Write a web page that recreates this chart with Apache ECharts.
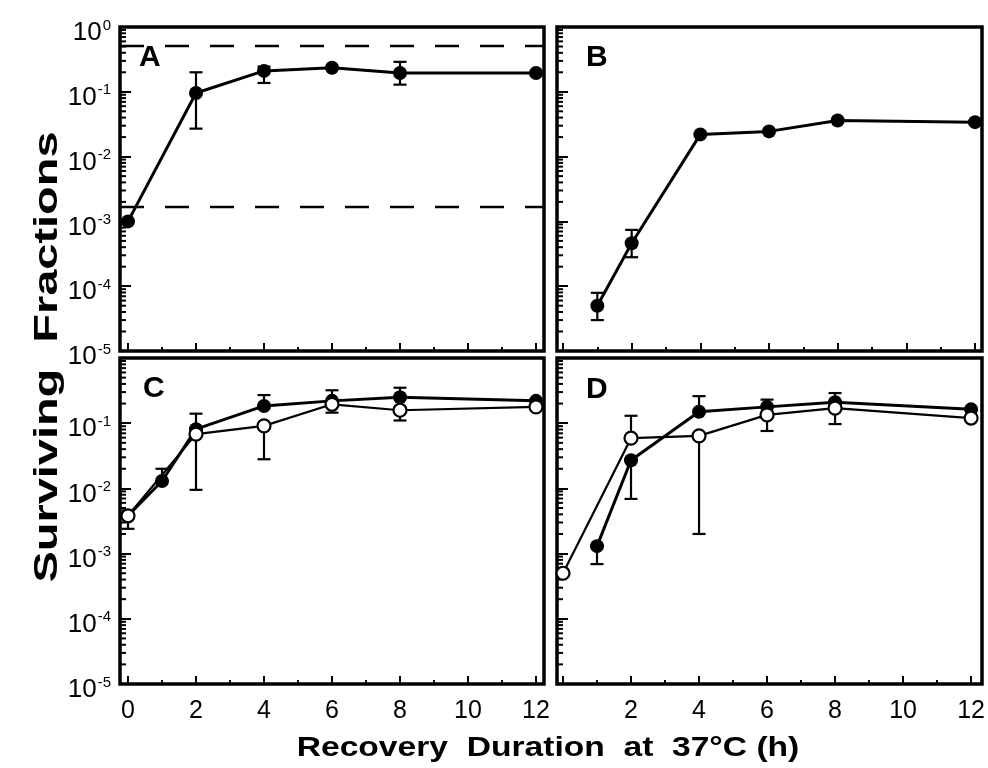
<!DOCTYPE html>
<html>
<head>
<meta charset="utf-8">
<script src="https://cdn.jsdelivr.net/npm/echarts@6/dist/echarts.min.js"></script>
<style>
  html, body { margin: 0; padding: 0; background: #fff; }
  #chart { width: 988px; height: 768px; }
</style>
</head>
<body>
<div id="chart"></div>
<script>
// panel A
const aHours = [0, 2, 4, 6, 8, 12]
const aSurv = [1.0e-3, 0.096, 0.21, 0.235, 0.195, 0.195]
const aErr = [[2, 0.027, 0.20], [4, 0.137, 0.245], [8, 0.129, 0.29]]
const aLimits = [0.51, 0.00167]

// panel B
const bHours = [1, 2, 4, 6, 8, 12]
const bSurv = [5.0e-5, 4.6e-4, 0.022, 0.0245, 0.036, 0.034]
const bErr = [[1, 3.0e-5, 7.9e-5], [2, 2.8e-4, 7.4e-4]]

// panel C
const cFilledHours = [0, 1, 2, 4, 6, 8, 12]
const cFilled = [3.8e-3, 0.013, 0.081, 0.184, 0.22, 0.25, 0.22]
const cFilledErr = [[1, 0.013, 0.020], [2, 0.081, 0.14], [4, 0.184, 0.27], [6, 0.22, 0.32], [8, 0.25, 0.35]]
const cOpenHours = [0, 2, 4, 6, 8, 12]
const cOpen = [3.8e-3, 0.068, 0.091, 0.195, 0.158, 0.178]
const cOpenErr = [[0, 2.4e-3, 4.6e-3], [2, 0.0095, 0.068], [4, 0.028, 0.091], [6, 0.145, 0.195], [8, 0.11, 0.158]]

// panel D
const dFilledHours = [1, 2, 4, 6, 8, 12]
const dFilled = [1.3e-3, 0.027, 0.15, 0.178, 0.21, 0.163]
const dFilledErr = [[1, 6.9e-4, 1.3e-3], [2, 0.0069, 0.027], [4, 0.15, 0.26], [6, 0.178, 0.23], [8, 0.21, 0.29]]
const dOpenHours = [0, 2, 4, 6, 8, 12]
const dOpen = [5.0e-4, 0.059, 0.064, 0.134, 0.17, 0.12]
const dOpenErr = [[2, 0.059, 0.13], [4, 0.002, 0.064], [6, 0.076, 0.134], [8, 0.097, 0.17]]

const xTicks = [0, 2, 4, 6, 8, 10, 12]
const decades = [-5, -4, -3, -2, -1, 0]

const FONT = 'Liberation Sans'

// minor ticks of the log axis: 2..9 in each decade
const minorTickValues = []
decades.slice(0, -1).forEach(d => {
  for (let m = 2; m <= 9; m++) minorTickValues.push(m * Math.pow(10, d))
})

const zip = (xs, ys) => xs.map((x, i) => [x, ys[i]])

// data grids (x = 0..12) and frame grids (border + y axis)
const dataBoxes = [
  { left: 128, top: 27, width: 408, height: 324 },
  { left: 563, top: 27, width: 412, height: 324 },
  { left: 128, top: 358, width: 408, height: 326 },
  { left: 563, top: 358, width: 412, height: 326 }
]
const frameBoxes = [
  { left: 120, top: 27, width: 424, height: 324 },
  { left: 557, top: 27, width: 425, height: 324 },
  { left: 120, top: 358, width: 424, height: 326 },
  { left: 557, top: 358, width: 425, height: 326 }
]

const grid = dataBoxes.map(b => Object.assign({ show: false }, b))
  .concat(frameBoxes.map(b => Object.assign({
    show: true, borderColor: '#000', borderWidth: 3.5, backgroundColor: 'transparent'
  }, b)))

const xAxis = [0, 1, 2, 3].map(i => ({
  type: 'value',
  gridIndex: i,
  min: 0,
  max: 12,
  interval: 2,
  axisLine: { show: false },
  axisTick: { inside: true, length: 8, lineStyle: { color: '#000', width: 2 } },
  minorTick: { show: true, splitNumber: 2, length: 4, lineStyle: { color: '#000', width: 2 } },
  splitLine: { show: false },
  axisLabel: {
    show: i >= 2,
    color: '#000',
    fontFamily: FONT,
    fontSize: 25,
    margin: 15,
    formatter: v => (i === 3 && v === 0) ? '' : (xTicks.indexOf(v) >= 0 ? String(v) : '')
  }
})).concat([4, 5, 6, 7].map(i => ({
  type: 'value', gridIndex: i, min: 0, max: 1, show: false
})))

const yAxis = [0, 1, 2, 3].map(i => ({
  type: 'log', gridIndex: i, min: 1e-5, max: 1, show: false
})).concat([4, 5, 6, 7].map(i => ({
  type: 'log',
  gridIndex: i,
  logBase: 10,
  min: 1e-5,
  max: 1,
  axisLine: { show: false },
  axisTick: { inside: true, length: 11, lineStyle: { color: '#000', width: 2 } },
  splitLine: { show: false },
  axisLabel: {
    show: i === 4 || i === 6,
    margin: 9,
    color: '#000',
    formatter: v => {
      const e = Math.round(Math.log10(v))
      if (i === 6 && e === 0) return ''
      return '{b|10}{e|' + e + '}'
    },
    rich: {
      b: { fontFamily: FONT, fontSize: 26, color: '#000', padding: [12, 0, 0, 0], lineHeight: 26 },
      e: { fontFamily: FONT, fontSize: 15, color: '#000', verticalAlign: 'top', padding: [4, 0, 0, 1], lineHeight: 15 }
    }
  }
})))

function errorBars(idx, data) {
  return {
    type: 'custom',
    xAxisIndex: idx,
    yAxisIndex: idx,
    z: 1,
    clip: false,
    encode: { x: 0, y: [1, 2] },
    data: data,
    renderItem: (params, api) => {
      const x = api.value(0)
      const lo = api.coord([x, api.value(1)])
      const hi = api.coord([x, api.value(2)])
      const w = 6.5
      const st = { stroke: '#000', lineWidth: 2.2 }
      return {
        type: 'group',
        children: [
          { type: 'line', shape: { x1: lo[0], y1: lo[1], x2: hi[0], y2: hi[1] }, style: st },
          { type: 'line', shape: { x1: lo[0] - w, y1: lo[1], x2: lo[0] + w, y2: lo[1] }, style: st },
          { type: 'line', shape: { x1: hi[0] - w, y1: hi[1], x2: hi[0] + w, y2: hi[1] }, style: st }
        ]
      }
    }
  }
}

function curve(idx, hours, values, open) {
  return {
    type: 'line',
    xAxisIndex: idx,
    yAxisIndex: idx,
    z: open ? 4 : 3,
    clip: false,
    data: zip(hours, values),
    symbol: 'circle',
    symbolSize: open ? 13 : 14,
    itemStyle: open
      ? { color: '#fff', borderColor: '#000', borderWidth: 2.2 }
      : { color: '#000' },
    lineStyle: { color: '#000', width: open ? 2.2 : 3 },
    emphasis: { disabled: true }
  }
}

function minorTicks(idx) {
  return {
    type: 'custom',
    xAxisIndex: idx,
    yAxisIndex: idx,
    z: 2,
    clip: false,
    data: minorTickValues.map(v => [0, v]),
    renderItem: (params, api) => {
      const p = api.coord([0, api.value(1)])
      return {
        type: 'line',
        shape: { x1: p[0], y1: p[1], x2: p[0] + 6, y2: p[1] },
        style: { stroke: '#000', lineWidth: 2 }
      }
    }
  }
}

const limitLines = aLimits.map(v => ({
  type: 'line',
  xAxisIndex: 4,
  yAxisIndex: 4,
  z: 2,
  data: [[0, v], [1, v]],
  symbol: 'none',
  lineStyle: { color: '#000', width: 2.5, type: [24, 21] },
  silent: true
}))

const series = [
  minorTicks(4), minorTicks(5), minorTicks(6), minorTicks(7),
  ...limitLines,
  errorBars(0, aErr), curve(0, aHours, aSurv, false),
  errorBars(1, bErr), curve(1, bHours, bSurv, false),
  errorBars(2, cFilledErr), errorBars(2, cOpenErr),
  curve(2, cFilledHours, cFilled, false), curve(2, cOpenHours, cOpen, true),
  errorBars(3, dFilledErr), errorBars(3, dOpenErr),
  curve(3, dFilledHours, dFilled, false), curve(3, dOpenHours, dOpen, true)
]

const letterStyle = { fontFamily: FONT, fontWeight: 'bold', fontSize: 30, fill: '#000' }
const panelLetters = [['A', 139, 43], ['B', 586, 43], ['C', 143, 374], ['D', 586, 375]]

const chart = echarts.init(document.getElementById('chart'), null, { renderer: 'canvas' })
chart.setOption({
  animation: false,
  backgroundColor: '#fff',
  grid: grid,
  xAxis: xAxis,
  yAxis: yAxis,
  series: series,
  graphic: panelLetters.map(l => ({
    type: 'text', left: l[1], top: l[2], z: 10,
    style: Object.assign({ text: l[0] }, letterStyle)
  })).concat([
    {
      type: 'text',
      x: 48, y: 357,
      rotation: Math.PI / 2,
      scaleX: 1.38,
      z: 10,
      style: {
        text: 'Surviving  Fractions',
        fontFamily: FONT, fontWeight: 'bold', fontSize: 34, fill: '#000',
        align: 'center', verticalAlign: 'middle'
      }
    },
    {
      type: 'text',
      x: 548, y: 748,
      scaleX: 1.2,
      z: 10,
      style: {
        text: 'Recovery  Duration  at  37°C (h)',
        fontFamily: FONT, fontWeight: 'bold', fontSize: 28, fill: '#000',
        align: 'center', verticalAlign: 'middle'
      }
    }
  ])
})
</script>
</body>
</html>
